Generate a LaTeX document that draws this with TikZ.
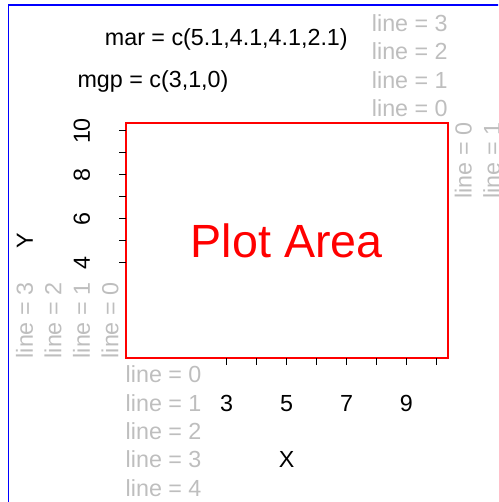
\documentclass[tikz,border=0pt]{standalone}
\usepackage{fontspec}
\setmainfont{Liberation Sans}
\definecolor{lblgray}{RGB}{190,190,190}
\begin{document}
\begin{tikzpicture}[x=1pt,y=-1pt,
  every node/.style={inner sep=0pt,outer sep=0pt,font=\fontsize{23.3}{28}\selectfont},
  marginlbl/.style={text=lblgray},
  axislbl/.style={text=black},
  ticktick/.style={line width=1pt,black},
  bigred/.style={text=red,font=\fontsize{46.6}{56}\selectfont}]
  \useasboundingbox (0,0) rectangle (498,502);
  \begin{scope}
    \clip (0,0) rectangle (498,502);
    % figure region (extends past the page edge)
    \draw[blue,line width=1.5pt] (8.5,5) rectangle (508,504);
  \end{scope}

  % plot region
  \coordinate (pnw) at (125.7,122.7);
  \coordinate (pse) at (447.7,358.3);
  \draw[red,line width=1.8pt] (pnw) rectangle (pse);
  \node[bigred,anchor=base] (area) at (286.7,257.7) {Plot Area};

  % y axis ticks and labels
  \foreach \v [evaluate=\v as \yy using {262.7-21.95*(\v-4)}] in {4,...,10}{
    \coordinate (yt\v) at (125.7,\yy);
    \coordinate (yo\v) at (118.7,\yy);
    \draw[ticktick] (yt\v) -- (yo\v);
  }
  \foreach \v in {4,6,8,10}{
    \node[axislbl,rotate=90,anchor=base] (ylab\v) at (89.8,{262.7-21.95*(\v-4)}) {\v};
  }
  \node[axislbl,rotate=90,anchor=base] (ytitle) at (32.8,240.5) {Y};

  % x axis ticks and labels
  \foreach \v [evaluate=\v as \xx using {226.7+29.95*(\v-3)}] in {3,...,10}{
    \coordinate (xt\v) at (\xx,358.3);
    \coordinate (xo\v) at (\xx,365.3);
    \draw[ticktick] (xt\v) -- (xo\v);
  }
  \foreach \v in {3,5,7,9}{
    \node[axislbl,anchor=base] (xlab\v) at ({226.7+29.95*(\v-3)},411.1) {\v};
  }
  \node[axislbl,anchor=base] (xtitle) at (286.7,467.9) {X};

  % margin line labels
  \foreach \n in {0,...,3}{
    \node[marginlbl,anchor=base east] (top\n) at (447.7,{116.7-28.4*\n}) {line = \n};
    \node[marginlbl,rotate=90,anchor=base west] (left\n) at ({118.3-28.5*\n},358.3) {line = \n};
  }
  \foreach \n in {0,...,4}{
    \node[marginlbl,anchor=base west] (bot\n) at (125.7,{382.7+28.4*\n}) {line = \n};
  }
  \begin{scope}
    \clip (0,0) rectangle (498,502);
    \foreach \n in {0,1}{
      \node[marginlbl,rotate=90,anchor=base east] (right\n) at ({471.7+28.4*\n},122.7) {line = \n};
    }
  \end{scope}

  % parameter captions
  \node[anchor=base] (mar) at (226.3,45.7) {mar = c(5.1,4.1,4.1,2.1)};
  \node[anchor=base] (mgp) at (153,87.3) {mgp = c(3,1,0)};
\end{tikzpicture}
\end{document}
